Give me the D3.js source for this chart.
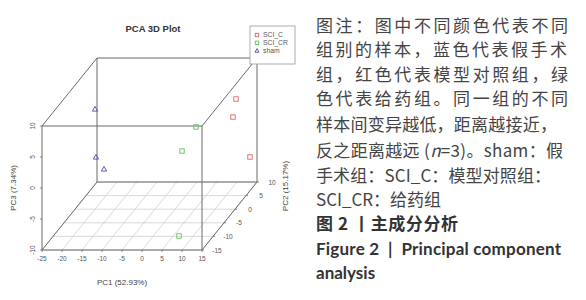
<!DOCTYPE html>
<html>
<head>
<meta charset="utf-8">
<script src="https://cdn.jsdelivr.net/npm/d3@7"></script>
<style>
  body { margin: 0; background: #fff; }
  svg { display: block; }
</style>
</head>
<body>
<svg id="chart" width="586" height="300"></svg>
<script>
// PCA scores (PC1, PC2, PC3)
const groups = ["SCI_C", "SCI_CR", "sham"];
const groupColors = ["#e06464", "#5cc45c", "#4c4cae"];
const pc1 = [12.5, 12.85, 14.9, 10.75, 4.5, 8.15, -17.25, -15.35, -12.25];
const pc2 = [5, 3, 7, -10, -5, -13, -5, -8, -10];
const pc3 = [5.58, 3.55, -4.65, 7.65, 1.58, -8.62, 8.35, 1.93, 0.87];
const sampleGroup = [0, 0, 0, 1, 1, 1, 2, 2, 2];

const xTicks = [-25, -20, -15, -10, -5, 0, 5, 10, 15];
const yTicks = [-15, -10, -5, 0, 5, 10];
const zTicks = [-10, -5, 0, 5, 10];

const captionLines = [
  "图注：图中不同颜色代表不同",
  "组别的样本，蓝色代表假手术",
  "组，红色代表模型对照组，绿",
  "色代表给药组。同一组的不同",
  "样本间变异越低，距离越接近，",
  null, // line with italic n, built below
  "手术组：SCI_C：模型对照组：",
  "SCI_CR：给药组"
];

const svg = d3.select("#chart");

// box geometry
const left = 42, bottom = 250, boxW = 160, boxH = 124, depthX = 55, depthY = 68;
const x = d3.scaleLinear().domain([-25, 15]).range([left, left + boxW]);
const y = d3.scaleLinear().domain([-15, 10]).range([0, 1]);
const z = d3.scaleLinear().domain([-10, 10]).range([bottom, bottom - boxH]);

const proj = (a, b, c) => [x(a) + y(b) * depthX, z(c) - y(b) * depthY];

const g = svg.append("g").attr("font-family", "Liberation Sans, Arial, sans-serif");

g.append("text")
  .attr("x", 153).attr("y", 32)
  .attr("text-anchor", "middle")
  .attr("font-size", 9.5).attr("font-weight", "bold").attr("fill", "#333")
  .text("PCA 3D Plot");

// floor grid
const line = (p, q, color, w) =>
  g.append("line")
    .attr("x1", p[0]).attr("y1", p[1]).attr("x2", q[0]).attr("y2", q[1])
    .attr("stroke", color).attr("stroke-width", w);

xTicks.forEach((t) => line(proj(t, -15, -10), proj(t, 10, -10), "#d0d0d0", 0.8));
yTicks.forEach((t) => line(proj(-25, t, -10), proj(15, t, -10), "#d0d0d0", 0.8));

// box edges
const corners = [
  [[-25, -15, -10], [15, -15, -10]],
  [[-25, -15, 10], [15, -15, 10]],
  [[-25, -15, -10], [-25, -15, 10]],
  [[15, -15, -10], [15, -15, 10]],
  [[-25, 10, -10], [15, 10, -10]],
  [[-25, 10, 10], [15, 10, 10]],
  [[-25, 10, -10], [-25, 10, 10]],
  [[15, 10, -10], [15, 10, 10]],
  [[-25, -15, -10], [-25, 10, -10]],
  [[15, -15, -10], [15, 10, -10]],
  [[-25, -15, 10], [-25, 10, 10]],
  [[15, -15, 10], [15, 10, 10]]
];
corners.forEach(([p, q]) => line(proj(...p), proj(...q), "#6a6a6a", 1));

// x axis ticks
xTicks.forEach((t) => {
  const p = proj(t, -15, -10);
  line(p, [p[0], p[1] + 2], "#6a6a6a", 0.8);
  g.append("text")
    .attr("x", p[0]).attr("y", p[1] + 11)
    .attr("text-anchor", "middle")
    .attr("font-size", 6.5).attr("fill", "#555")
    .text(t);
});

// y (depth) axis ticks
yTicks.forEach((t) => {
  const p = proj(15, t, -10);
  line(p, [p[0] + 2, p[1]], "#6a6a6a", 0.8);
  g.append("text")
    .attr("x", p[0] + 15).attr("y", p[1] + 2.5)
    .attr("text-anchor", "middle")
    .attr("font-size", 6.5).attr("fill", "#555")
    .text(t);
});

// z axis ticks
zTicks.forEach((t) => {
  const p = proj(-25, -15, t);
  line(p, [p[0] - 2, p[1]], "#6a6a6a", 0.8);
  g.append("text")
    .attr("transform", `translate(${p[0] - 7},${p[1]}) rotate(-90)`)
    .attr("text-anchor", "middle")
    .attr("font-size", 6.5).attr("fill", "#555")
    .text(t);
});

// axis titles
g.append("text")
  .attr("x", 122).attr("y", 285)
  .attr("text-anchor", "middle")
  .attr("font-size", 8).attr("fill", "#444")
  .text("PC1 (52.93%)");

g.append("text")
  .attr("transform", "translate(16,188) rotate(-90)")
  .attr("text-anchor", "middle")
  .attr("font-size", 8).attr("fill", "#444")
  .text("PC3 (7.34%)");

g.append("text")
  .attr("transform", "translate(288,186) rotate(-90)")
  .attr("text-anchor", "middle")
  .attr("font-size", 8).attr("fill", "#444")
  .text("PC2 (15.17%)");

// markers
const marker = (sel, gi, cx, cy, r) => {
  if (gi === 2) {
    sel.append("path")
      .attr("d", `M${cx},${cy - r}L${cx + r},${cy + r * 0.8}L${cx - r},${cy + r * 0.8}Z`)
      .attr("fill", "none").attr("stroke", groupColors[gi]).attr("stroke-width", 0.9);
  } else {
    sel.append("rect")
      .attr("x", cx - r * 0.85).attr("y", cy - r * 0.85)
      .attr("width", r * 1.7).attr("height", r * 1.7)
      .attr("fill", "none").attr("stroke", groupColors[gi]).attr("stroke-width", 0.9);
  }
};

pc1.forEach((v, i) => {
  const p = proj(v, pc2[i], pc3[i]);
  marker(g, sampleGroup[i], p[0], p[1], 2.6);
});

// legend
const lg = g.append("g");
lg.append("rect")
  .attr("x", 250).attr("y", 26).attr("width", 45).attr("height", 38)
  .attr("fill", "#fff").attr("stroke", "#999").attr("stroke-width", 0.8);
groups.forEach((name, i) => {
  const ly = 35 + i * 7.8;
  marker(lg, i, 257, ly, 2);
  lg.append("text")
    .attr("x", 263).attr("y", ly + 2.4)
    .attr("font-size", 6.8).attr("fill", "#555")
    .text(name);
});

// caption text on the right
const cap = svg.append("g")
  .attr("font-family", "Noto Sans CJK SC, sans-serif")
  .attr("fill", "#444");
const lineY = [25, 49.5, 74, 98.5, 124, 150, 175, 199, 223.5, 249, 272.5];
const lineEnd = [568, 567, 568, 568, 557, 563, 551, null];
const capX = 316;

captionLines.forEach((txt, i) => {
  const t = cap.append("text")
    .attr("x", capX).attr("y", lineY[i] + 6.5)
    .attr("font-size", 17);
  if (txt === null) {
    t.append("tspan").text("反之距离越远 (");
    t.append("tspan").attr("font-style", "italic").text("n");
    t.append("tspan").text("=3)。sham：假");
  } else {
    t.text(txt);
  }
  if (lineEnd[i]) {
    t.attr("textLength", lineEnd[i] - capX).attr("lengthAdjust", "spacing");
  }
});

cap.append("text")
  .attr("x", capX).attr("y", lineY[8] + 6.5)
  .attr("font-size", 17).attr("font-weight", "bold").attr("fill", "#333")
  .attr("textLength", 458 - capX).attr("lengthAdjust", "spacing")
  .text("图 2 丨主成分分析");

cap.append("text")
  .attr("x", capX).attr("y", lineY[9] + 6)
  .attr("font-family", "Lato, Open Sans, sans-serif")
  .attr("font-size", 17).attr("font-weight", "bold").attr("fill", "#333")
  .style("white-space", "pre")
  .attr("textLength", 561 - capX).attr("lengthAdjust", "spacing")
  .text("Figure 2  |  Principal component");

cap.append("text")
  .attr("x", capX).attr("y", lineY[10] + 6)
  .attr("font-family", "Lato, Open Sans, sans-serif")
  .attr("font-size", 17).attr("font-weight", "bold").attr("fill", "#333")
  .text("analysis");
</script>
</body>
</html>
